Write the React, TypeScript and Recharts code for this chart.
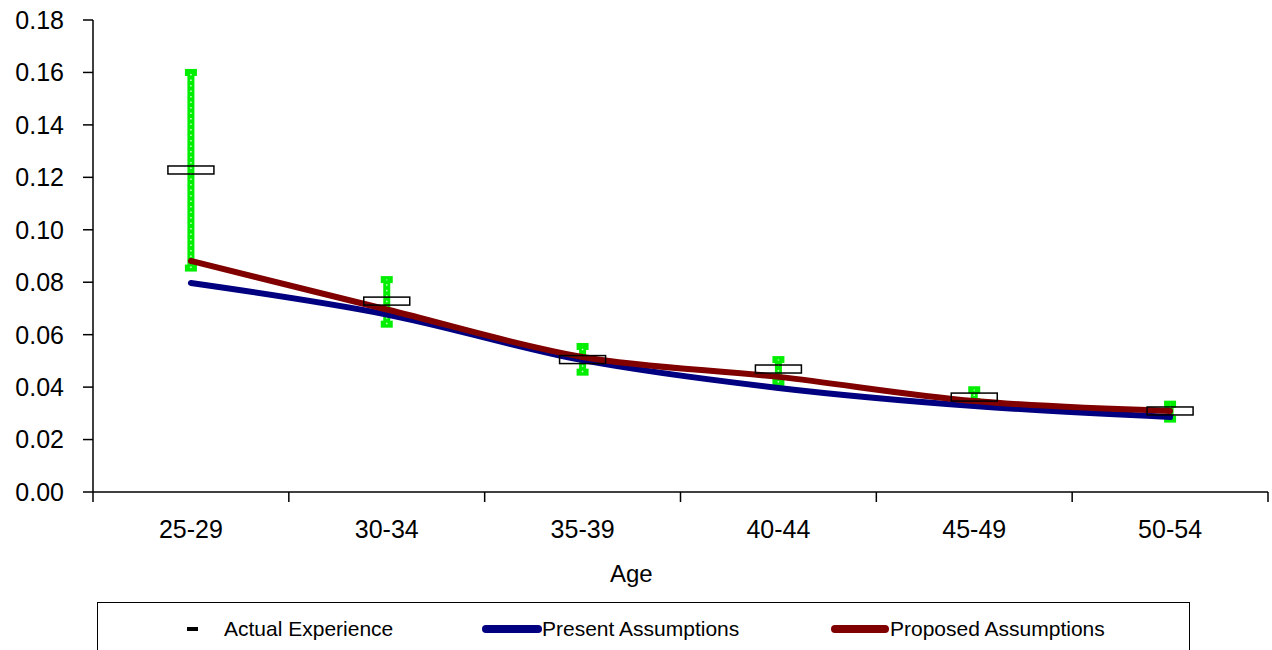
import React from 'react';
import {
  ComposedChart,
  Line,
  Scatter,
  ErrorBar,
  XAxis,
  YAxis
} from 'recharts';

const ageGroups = ['25-29', '30-34', '35-39', '40-44', '45-49', '50-54'];
const actualExperience = [0.1228, 0.0728, 0.0505, 0.0469, 0.0362, 0.0309];
const actualLow = [0.0854, 0.064, 0.0457, 0.0418, 0.0345, 0.0278];
const actualHigh = [0.16, 0.081, 0.0555, 0.0505, 0.039, 0.0335];
const presentAssumptions = [0.0797, 0.0677, 0.0503, 0.0397, 0.0328, 0.0286];
const proposedAssumptions = [0.0881, 0.0696, 0.0515, 0.0439, 0.0347, 0.0309];
const yTicks = [0, 0.02, 0.04, 0.06, 0.08, 0.1, 0.12, 0.14, 0.16, 0.18];
const xTicks = [0, 1, 2, 3, 4, 5, 6];

const FONT = '"Liberation Sans", Arial, sans-serif';

// x sits in the middle of each category band, Excel style
const chartData = ageGroups.map((age, i) => ({
  x: i + 0.5,
  age,
  actual: actualExperience[i],
  err: [actualExperience[i] - actualLow[i], actualHigh[i] - actualExperience[i]],
  present: presentAssumptions[i],
  proposed: proposedAssumptions[i]
}));

const BoxFilled = (props: any) => {
  const { cx, cy } = props;
  return <rect x={cx - 23} y={cy - 4} width={46} height={8} fill="#ffffff" stroke="none" />;
};

const BoxOutline = (props: any) => {
  const { cx, cy } = props;
  return <rect x={cx - 23} y={cy - 4} width={46} height={8} fill="none" stroke="#000" strokeWidth={1.5} />;
};

const CategoryTick = (props: any) => {
  const { x, y, payload, index } = props;
  if (index >= ageGroups.length) return null;
  const band = 1175 / ageGroups.length;
  return (
    <text x={x + band / 2} y={y} dy="0.71em" textAnchor="middle" fontSize={25} fill="#000" fontFamily={FONT}>
      {ageGroups[payload.value]}
    </text>
  );
};

const LegendBox = () => (
  <div
    style={{
      position: 'absolute',
      left: 97,
      top: 602,
      width: 1093,
      height: 60,
      border: '1.5px solid #000',
      boxSizing: 'border-box',
      fontFamily: FONT,
      fontSize: 21,
      color: '#000'
    }}
  >
    <div style={{ position: 'absolute', left: 89, top: 24, width: 11, height: 4, background: '#000' }} />
    <span style={{ position: 'absolute', left: 126, top: 14 }}>Actual Experience</span>
    <div style={{ position: 'absolute', left: 384, top: 22, width: 60, height: 8, borderRadius: 4, background: '#000080' }} />
    <span style={{ position: 'absolute', left: 444, top: 14 }}>Present Assumptions</span>
    <div style={{ position: 'absolute', left: 733, top: 22, width: 58, height: 8, borderRadius: 4, background: '#800000' }} />
    <span style={{ position: 'absolute', left: 792, top: 14 }}>Proposed Assumptions</span>
  </div>
);

export default function App() {
  return (
    <div style={{ position: 'absolute', left: 0, top: 0, width: 1272, height: 650, background: '#fff', overflow: 'hidden' }}>
      <ComposedChart
        width={1272}
        height={650}
        data={chartData}
        margin={{ top: 20, right: 4, left: 0, bottom: 0 }}
      >
        <XAxis
          dataKey="x"
          type="number"
          domain={[0, 6]}
          ticks={xTicks}
          interval={0}
          stroke="#000"
          strokeWidth={1.5}
          tickSize={10}
          tickMargin={18}
          tick={<CategoryTick />}
          height={158}
        />
        <YAxis
          domain={[0, 0.18]}
          ticks={yTicks}
          interval={0}
          width={93}
          stroke="#000"
          strokeWidth={1.5}
          tickSize={10}
          tickMargin={19}
          tickFormatter={(v: number) => v.toFixed(2)}
          tick={{ fontSize: 25, fill: '#000', fontFamily: FONT }}
        />
        <Scatter dataKey="actual" shape={<BoxFilled />} isAnimationActive={false} zIndex={300}>
          <ErrorBar dataKey="err" direction="y" width={6} stroke="#00ee00" strokeWidth={7} isAnimationActive={false} />
          <ErrorBar dataKey="err" direction="y" width={0} stroke="#ccffcc" strokeWidth={1.5} strokeDasharray="1.5 4" isAnimationActive={false} />
        </Scatter>
        <Line
          type="monotone"
          dataKey="present"
          stroke="#000080"
          strokeWidth={6}
          strokeLinecap="round"
          dot={false}
          activeDot={false}
          isAnimationActive={false}
          zIndex={400}
        />
        <Line
          type="monotone"
          dataKey="proposed"
          stroke="#800000"
          strokeWidth={6}
          strokeLinecap="round"
          dot={false}
          activeDot={false}
          isAnimationActive={false}
          zIndex={410}
        />
        <Scatter dataKey="actual" shape={<BoxOutline />} isAnimationActive={false} zIndex={700} />
      </ComposedChart>
      <div style={{ position: 'absolute', left: 610, top: 560, fontFamily: FONT, fontSize: 24, color: '#000' }}>Age</div>
      <LegendBox />
    </div>
  );
}
